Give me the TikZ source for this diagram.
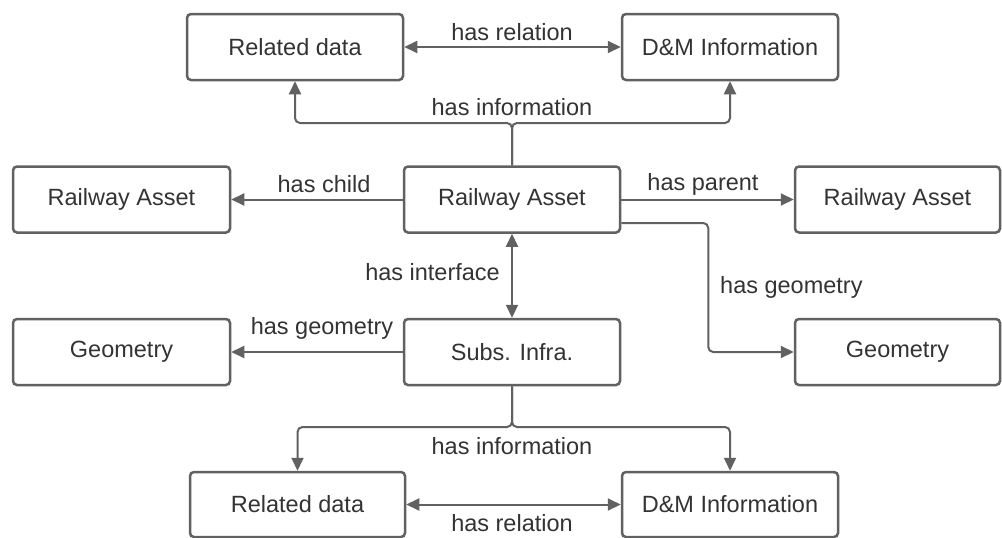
\documentclass[tikz,border=0pt]{standalone}
\usepackage{fontspec}
\setmainfont{Liberation Sans}
\usetikzlibrary{arrows.meta}
\definecolor{linegray}{HTML}{616161}
\definecolor{textgray}{HTML}{333333}
\begin{document}
\begin{tikzpicture}[x=1pt,y=-1pt,
  box/.style={draw=linegray, line width=2.5pt, rounded corners=4pt, fill=white,
    minimum width=216pt, minimum height=66pt, inner sep=0pt, text=textgray,
    font=\fontsize{23.5}{28}\selectfont},
  conn/.style={draw=linegray, line width=2pt, rounded corners=5pt,
    -{Triangle[length=13pt,width=12pt]}},
  dconn/.style={draw=linegray, line width=2pt,
    {Triangle[length=13pt,width=12pt]}-{Triangle[length=13pt,width=12pt]}},
  lbl/.style={text=textgray, inner sep=0pt, font=\fontsize{23.5}{28}\selectfont}]
\useasboundingbox (0,0) rectangle (1002,538);
% top row
\node[box] (rdT) at (295,47) {Related data};
\node[box] (dmT) at (730,47) {D\&M Information};
% middle row
\node[box, minimum width=217pt] (raL) at (121.5,199.5) {Railway Asset};
\node[box] (raC) at (512,199.5) {Railway Asset};
\node[box, minimum width=205pt] (raR) at (897.5,199.5) {Railway Asset};
% third row
\node[box, minimum width=217pt] (geoL) at (121.5,352) {Geometry};
\node[box] (subs) at (512,352) {Subs. Infra.};
\node[box, minimum width=205pt] (geoR) at (897.5,352) {Geometry};
% bottom row
\node[box, minimum width=215pt, minimum height=65pt] (rdB) at (297.5,504.5) {Related data};
\node[box, minimum height=65pt] (dmB) at (730,504.5) {D\&M Information};
% junctions
\coordinate (jT) at (512,123);
\coordinate (jB) at (512,427);
% connectors
\draw[dconn] (rdT.east) -- (dmT.west);
\draw[conn] (raC.north) -- (jT) -| (rdT.south);
\draw[conn] (raC.north) -- (jT) -| (dmT.south);
\draw[conn] (raC.west) -- (raL.east);
\draw[conn] (raC.east) -- (raR.west);
\draw[conn] ([yshift=-23.5pt]raC.east) -- ++(87,0) |- (geoR.west);
\draw[dconn] (raC.south) -- (subs.north);
\draw[conn] (subs.west) -- (geoL.east);
\draw[conn] (subs.south) -- (jB) -| (rdB.north);
\draw[conn] (subs.south) -- (jB) -| (dmB.north);
\draw[dconn] (rdB.east) -- (dmB.west);
% labels
\node[lbl] (l1) at (512,32) {has relation};
\node[lbl] (l2) at (512,107) {has information};
\node[lbl] (l3) at (324,184) {has child};
\node[lbl] (l4) at (703,184) {has parent};
\node[lbl, anchor=east] (l5) at (500,272) {has interface};
\node[lbl, anchor=west] (l6) at (720,287) {has geometry};
\node[lbl] (l7) at (322,328) {has geometry};
\node[lbl] (l8) at (512,446) {has information};
\node[lbl] (l9) at (512,523) {has relation};
\end{tikzpicture}
\end{document}
